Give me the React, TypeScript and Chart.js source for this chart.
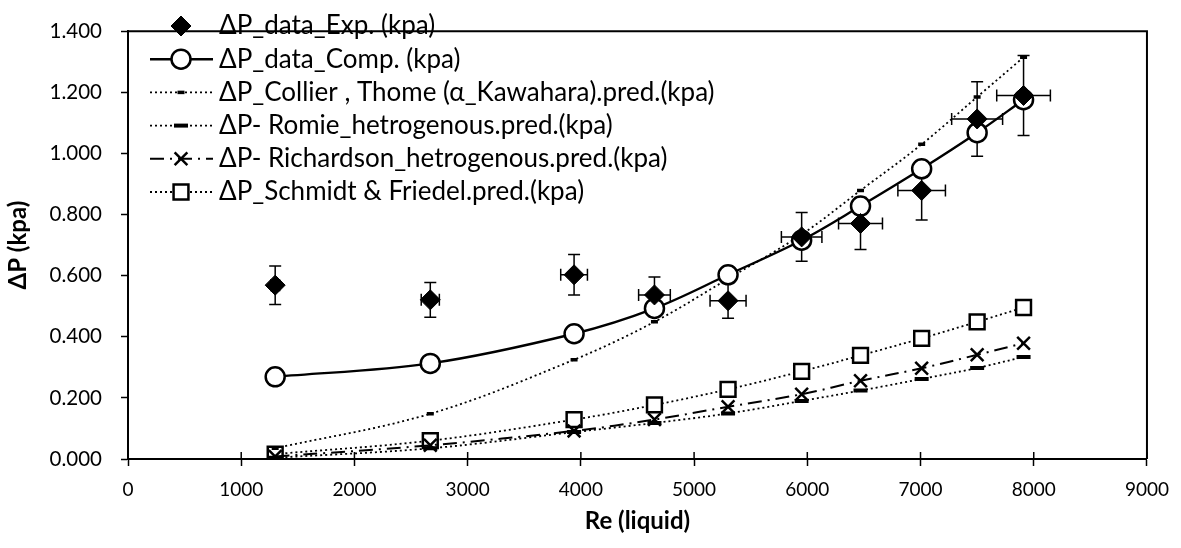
import React, { useEffect, useRef } from 'react';
import { Chart, registerables } from 'chart.js';
import { drawPoint } from 'chart.js/helpers';

Chart.register(...registerables);

const reLiquid = [1300, 2670, 3940, 4650, 5300, 5950, 6470, 7010, 7500, 7910];
const dpExp = [0.569, 0.521, 0.603, 0.537, 0.518, 0.727, 0.771, 0.879, 1.113, 1.19];
const dpExpErrY = [0.063, 0.057, 0.066, 0.059, 0.057, 0.08, 0.085, 0.097, 0.122, 0.131];
const dpExpErrX = [39, 80, 118, 140, 159, 179, 194, 210, 225, 237];
const dpComp = [0.269, 0.313, 0.41, 0.493, 0.603, 0.716, 0.828, 0.95, 1.068, 1.176];
const dpCollier = [0.035, 0.148, 0.325, 0.449, 0.59, 0.735, 0.879, 1.03, 1.185, 1.315];
const dpRomie = [0.004, 0.035, 0.088, 0.118, 0.149, 0.19, 0.224, 0.262, 0.298, 0.334];
const dpRichardson = [0.008, 0.045, 0.092, 0.129, 0.171, 0.212, 0.256, 0.297, 0.341, 0.379];
const dpSchmidt = [0.016, 0.06, 0.129, 0.177, 0.228, 0.287, 0.339, 0.395, 0.449, 0.496];

const seriesLabels = [
  'ΔP_data_Exp. (kpa)',
  'ΔP_data_Comp. (kpa)',
  'ΔP_Collier , Thome (α_Kawahara).pred.(kpa)',
  'ΔP- Romie_hetrogenous.pred.(kpa)',
  'ΔP- Richardson_hetrogenous.pred.(kpa)',
  'ΔP_Schmidt & Friedel.pred.(kpa)',
];
const xTitle = 'Re (liquid)';
const yTitle = 'ΔP (kpa)';
const xMin = 0, xMax = 9000, xStep = 1000;
const yMin = 0, yMax = 1.4, yStep = 0.2;

const FONT = 'Lato, "Open Sans", sans-serif';
const pts = (ys: number[]) => reLiquid.map((x, i) => ({ x, y: ys[i] }));

const overlayPlugin = {
  id: 'overlay',
  beforeDatasetsDraw(chart: any) {
    const ctx = chart.ctx;
    const xs = chart.scales.x, ys = chart.scales.y;
    ctx.save();
    ctx.strokeStyle = '#000';
    ctx.lineWidth = 1.5;
    ctx.setLineDash([]);
    const cap = 6;
    reLiquid.forEach((xv, i) => {
      const px = xs.getPixelForValue(xv);
      const py = ys.getPixelForValue(dpExp[i]);
      const y1 = ys.getPixelForValue(dpExp[i] + dpExpErrY[i]);
      const y2 = ys.getPixelForValue(dpExp[i] - dpExpErrY[i]);
      const x1 = xs.getPixelForValue(xv - dpExpErrX[i]);
      const x2 = xs.getPixelForValue(xv + dpExpErrX[i]);
      ctx.beginPath();
      ctx.moveTo(px, y1); ctx.lineTo(px, y2);
      ctx.moveTo(px - cap, y1); ctx.lineTo(px + cap, y1);
      ctx.moveTo(px - cap, y2); ctx.lineTo(px + cap, y2);
      ctx.moveTo(x1, py); ctx.lineTo(x2, py);
      ctx.moveTo(x1, py - cap); ctx.lineTo(x1, py + cap);
      ctx.moveTo(x2, py - cap); ctx.lineTo(x2, py + cap);
      ctx.stroke();
    });
    ctx.restore();
  },
  afterDraw(chart: any) {
    const ctx = chart.ctx;
    const a = chart.chartArea;
    const xs = chart.scales.x;
    ctx.save();
    ctx.strokeStyle = '#000';
    ctx.lineWidth = 2;
    ctx.setLineDash([]);
    ctx.beginPath();
    ctx.moveTo(a.left, a.top); ctx.lineTo(a.right, a.top); ctx.lineTo(a.right, a.bottom);
    ctx.stroke();
    ctx.lineWidth = 1.5;
    ctx.beginPath();
    xs.ticks.forEach((t: any) => {
      const px = xs.getPixelForValue(t.value);
      ctx.moveTo(px, a.bottom); ctx.lineTo(px, a.bottom - 7);
    });
    ctx.stroke();
    ctx.fillStyle = '#000';
    ctx.font = `bold 24px ${FONT}`;
    ctx.textAlign = 'center';
    ctx.textBaseline = 'middle';
    ctx.fillText(xTitle, (a.left + a.right) / 2, 521);
    ctx.save();
    ctx.translate(18, (a.top + a.bottom) / 2);
    ctx.rotate(-Math.PI / 2);
    ctx.fillText(yTitle, 0, 0);
    ctx.restore();
    const rowY0 = 26, rowStep = 33.2, lx0 = 150, lx1 = 213, mx = 181, tx = 219;
    chart.data.datasets.forEach((ds: any, i: number) => {
      const y = rowY0 + i * rowStep;
      if (ds.showLine !== false) {
        ctx.strokeStyle = '#000';
        ctx.lineWidth = ds.borderWidth;
        ctx.setLineDash(ds.borderDash || []);
        ctx.beginPath();
        ctx.moveTo(lx0, y); ctx.lineTo(lx1, y);
        ctx.stroke();
      }
      ctx.setLineDash([]);
      ctx.fillStyle = ds.pointBackgroundColor;
      ctx.strokeStyle = ds.pointBorderColor;
      ctx.lineWidth = ds.pointBorderWidth;
      drawPoint(ctx, { pointStyle: ds.pointStyle, radius: ds.pointRadius, borderWidth: ds.pointBorderWidth, rotation: 0 } as any, mx, y);
      ctx.fillStyle = '#000';
      ctx.font = `26px ${FONT}`;
      ctx.textAlign = 'left';
      ctx.textBaseline = 'middle';
      ctx.fillText(seriesLabels[i], tx, y);
    });
    ctx.restore();
  },
};

export default function App() {
  const ref = useRef<HTMLCanvasElement>(null);
  useEffect(() => {
    if (!ref.current) return;
    const dotted = { borderDash: [2, 3], borderWidth: 1.8 };
    const chart = new Chart(ref.current, {
      type: 'scatter',
      data: {
        datasets: [
          {
            label: seriesLabels[0], data: pts(dpExp), showLine: false,
            pointStyle: 'rectRot', pointRadius: 10, pointBackgroundColor: '#000', pointBorderColor: '#000', pointBorderWidth: 1,
            borderColor: '#000', backgroundColor: '#000',
          },
          {
            label: seriesLabels[1], data: pts(dpComp), showLine: true, borderColor: '#000', borderWidth: 2.4, tension: 0.35,
            pointStyle: 'circle', pointRadius: 9.5, pointBackgroundColor: '#fff', pointBorderColor: '#000', pointBorderWidth: 2.5,
          },
          {
            label: seriesLabels[2], data: pts(dpCollier), showLine: true, borderColor: '#000', ...dotted, tension: 0.35,
            pointStyle: 'line', pointRadius: 3.5, pointBackgroundColor: '#000', pointBorderColor: '#000', pointBorderWidth: 3.5,
          },
          {
            label: seriesLabels[3], data: pts(dpRomie), showLine: true, borderColor: '#000', ...dotted, tension: 0.35,
            pointStyle: 'line', pointRadius: 7, pointBackgroundColor: '#000', pointBorderColor: '#000', pointBorderWidth: 4,
          },
          {
            label: seriesLabels[4], data: pts(dpRichardson), showLine: true, borderColor: '#000', borderWidth: 2, borderDash: [14, 6, 2, 6], tension: 0.35,
            pointStyle: 'crossRot', pointRadius: 9, pointBackgroundColor: '#000', pointBorderColor: '#000', pointBorderWidth: 2.5,
          },
          {
            label: seriesLabels[5], data: pts(dpSchmidt), showLine: true, borderColor: '#000', ...dotted, tension: 0.35,
            pointStyle: 'rect', pointRadius: 10.5, pointBackgroundColor: '#fff', pointBorderColor: '#000', pointBorderWidth: 2.5,
          },
        ],
      },
      options: {
        responsive: false,
        animation: false,
        devicePixelRatio: 1,
        layout: { padding: { top: 16, right: 34, left: 0, bottom: 0 } },
        plugins: { legend: { display: false }, tooltip: { enabled: false } },
        scales: {
          x: {
            type: 'linear', min: xMin, max: xMax,
            ticks: { stepSize: xStep, color: '#000', font: { family: FONT, size: 19 }, padding: 12, maxRotation: 0, callback: (v: any) => String(v) },
            grid: { drawOnChartArea: false, drawTicks: true, tickLength: 7, tickWidth: 1.5, tickColor: '#000' },
            border: { display: true, color: '#000', width: 2 },
            afterFit: (s: any) => { s.height = 89; },
          },
          y: {
            type: 'linear', min: yMin, max: yMax,
            ticks: { stepSize: yStep, color: '#000', font: { family: FONT, size: 20.5 }, padding: 19, callback: (v: any) => Number(v).toFixed(3) },
            grid: { drawOnChartArea: false, drawTicks: true, tickLength: 7, tickWidth: 1.5, tickColor: '#000' },
            border: { display: true, color: '#000', width: 2 },
            afterFit: (s: any) => { s.width = 128; },
          },
        },
      },
      plugins: [overlayPlugin],
    } as any);
    return () => chart.destroy();
  }, []);
  return (
    <div style={{ position: 'absolute', left: 0, top: 0, width: 1181, height: 548, background: '#fff' }}>
      <canvas ref={ref} width={1181} height={548} />
    </div>
  );
}
